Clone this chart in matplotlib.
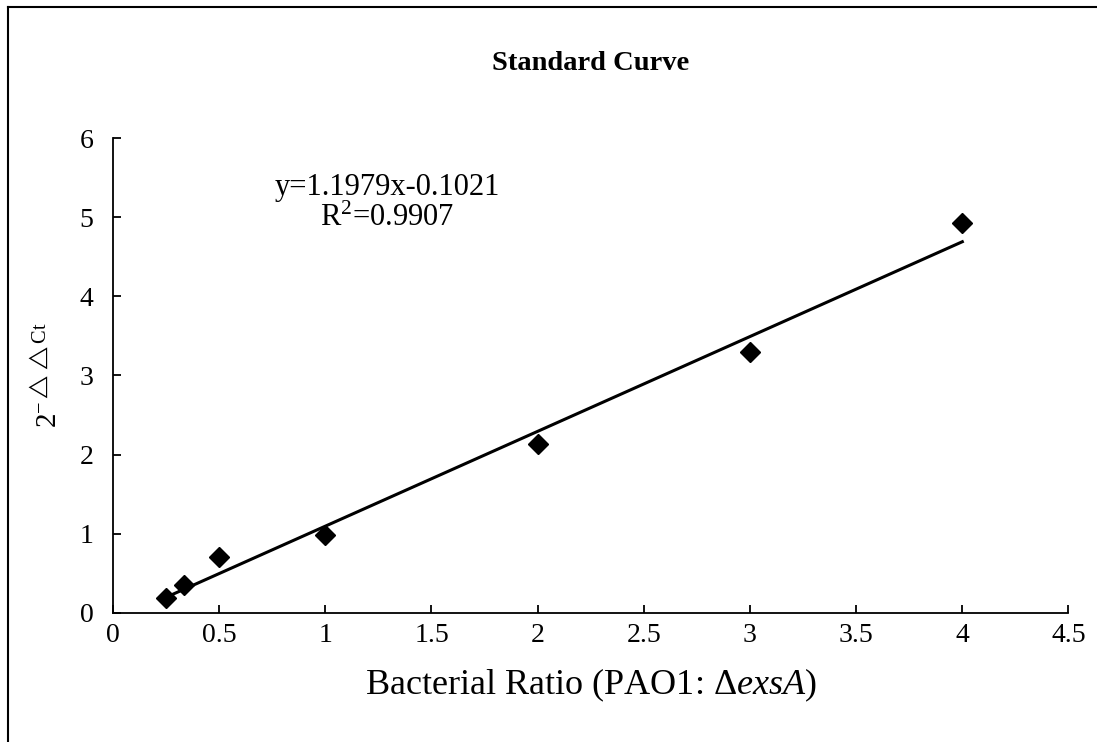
import numpy as np
import matplotlib as mpl
mpl.use('agg')
import matplotlib.pyplot as plt
from matplotlib.lines import Line2D

# bacterial ratio vs relative expression
ratio = [0.25, 0.333, 0.5, 1.0, 2.0, 3.0, 4.0]
expr = [0.19, 0.35, 0.70, 0.99, 2.14, 3.29, 4.92]

# trendline as reported on the chart
slope = 1.1979
intercept = -0.1021
r2 = 0.9907

xticks = [0, 0.5, 1, 1.5, 2, 2.5, 3, 3.5, 4, 4.5]
yticks = [0, 1, 2, 3, 4, 5, 6]

plt.rcParams['font.family'] = ['Liberation Serif', 'DejaVu Serif']
plt.rcParams['mathtext.fontset'] = 'custom'
plt.rcParams['mathtext.rm'] = 'Liberation Serif'
plt.rcParams['mathtext.it'] = 'Liberation Serif:italic'
plt.rcParams['mathtext.bf'] = 'Liberation Serif:bold'

fig = plt.figure(figsize=(10.97, 7.42), dpi=100)
ax = fig.add_axes([0.103, 0.174, 0.871, 0.640])

# data points
ax.plot(ratio, expr, linestyle='none', marker='D', markersize=10, color='k')

# linear trendline across the data range
xl = np.array([min(ratio), max(ratio)])
ax.plot(xl, slope * xl + intercept, color='k', linewidth=2.2)

ax.set_xlim(0, 4.5)
ax.set_ylim(0, 6)
ax.set_xticks(xticks)
ax.set_xticklabels(['%g' % v for v in xticks])
ax.set_yticks(yticks)

for s in ['top', 'right']:
    ax.spines[s].set_visible(False)
for s in ['left', 'bottom']:
    ax.spines[s].set_linewidth(1.3)

ax.tick_params(direction='in', length=6, width=1.3, labelsize=20)
ax.tick_params(axis='x', pad=7)
ax.tick_params(axis='y', pad=14)

ax.set_xlabel('Bacterial Ratio (PAO1: Δ$\\it{exsA}$)', fontsize=26, labelpad=14)
ax.set_ylabel(r'$2^{-\triangle\triangle\mathrm{Ct}}$', fontsize=21, labelpad=12)

# equation text
ax.text(1.29, 5.38, 'y=%.4fx%.4f' % (slope, intercept), fontsize=22,
        ha='center', va='center')
ax.text(1.29, 4.98, 'R$^2$=%.4f' % r2, fontsize=22, ha='center', va='center')

fig.text(0.538, 0.915, 'Standard Curve', fontsize=20.5, fontweight='bold',
         ha='center', va='center')

# chart area border (left and top edges visible)
fig.add_artist(Line2D([0.0075, 0.0075], [0, 0.991], transform=fig.transFigure,
                      color='k', linewidth=1.5))
fig.add_artist(Line2D([0.0075, 1.0], [0.991, 0.991], transform=fig.transFigure,
                      color='k', linewidth=1.5))

plt.savefig('out.png', dpi=100)
plt.close()
